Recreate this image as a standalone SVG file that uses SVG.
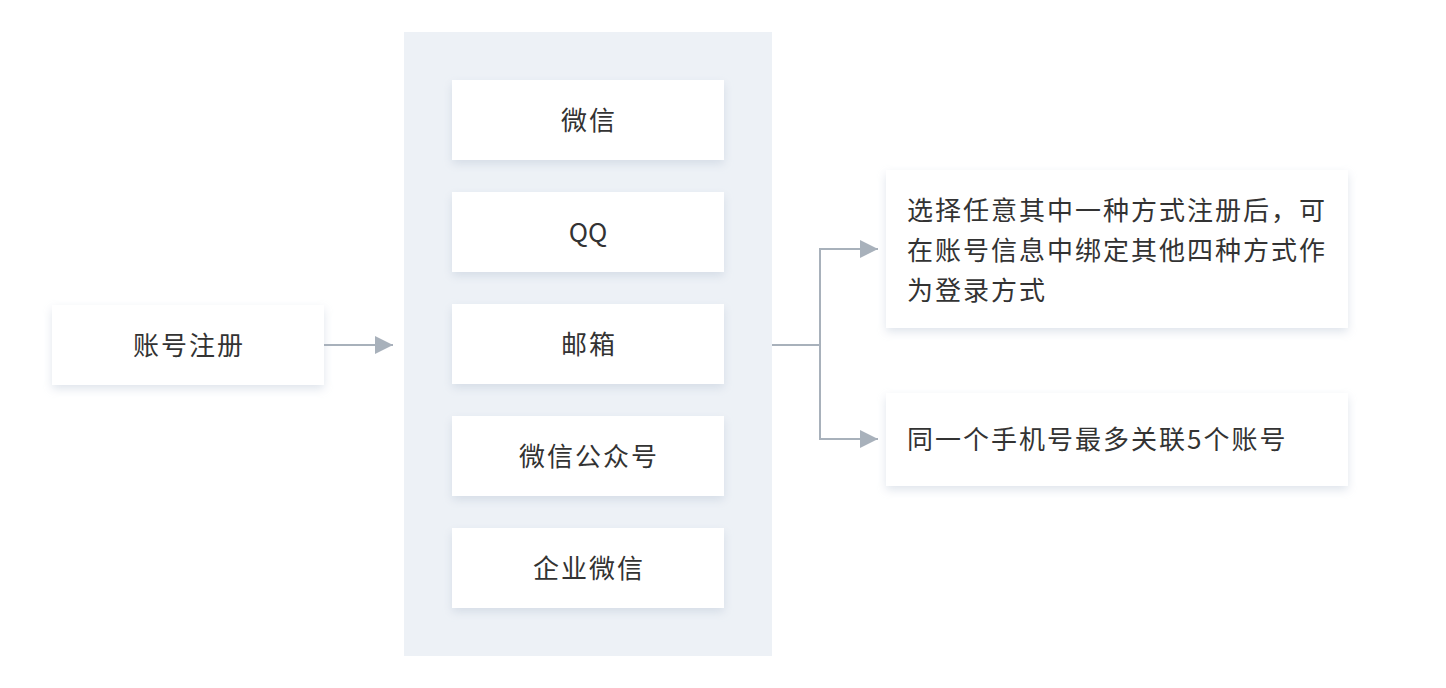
<svg xmlns="http://www.w3.org/2000/svg" width="1446" height="688" viewBox="0 0 1446 688">
<defs>
<filter id="sh" x="-10%" y="-20%" width="120%" height="150%">
<feDropShadow dx="0" dy="4" stdDeviation="5" flood-color="#b9c4d4" flood-opacity="0.45"/>
</filter>
<marker id="ah" markerWidth="18" markerHeight="18" refX="18" refY="9" orient="auto" markerUnits="userSpaceOnUse">
<path d="M0,0 L18,9 L0,18 Z" fill="#A8B1BB"/>
</marker>
<style>
.box{fill:#ffffff;filter:url(#sh)}
.t{font-family:"Noto Sans CJK SC","Noto Sans",sans-serif;font-size:26px;fill:#333333;letter-spacing:2px}
.c{text-anchor:middle;dominant-baseline:central}
.ln{fill:none;stroke:#A8B1BB;stroke-width:2}
</style>
</defs>
<rect width="1446" height="688" fill="#ffffff"/>
<g id="panel"><rect x="404" y="32" width="368" height="624" fill="#EDF1F6"/></g>
<g id="reg"><rect class="box" x="52" y="305" width="272" height="80"/><text class="t c" x="189" y="343">账号注册</text></g>
<g id="wx"><rect class="box" x="452" y="80" width="272" height="80"/><text class="t c" x="589" y="118">微信</text></g>
<g id="qq"><rect class="box" x="452" y="192" width="272" height="80"/><text class="t c" x="588" y="230" style="letter-spacing:0">QQ</text></g>
<g id="mail"><rect class="box" x="452" y="304" width="272" height="80"/><text class="t c" x="589" y="342">邮箱</text></g>
<g id="gzh"><rect class="box" x="452" y="416" width="272" height="80"/><text class="t c" x="589" y="454">微信公众号</text></g>
<g id="qywx"><rect class="box" x="452" y="528" width="272" height="80"/><text class="t c" x="589" y="566">企业微信</text></g>
<g id="note1"><rect class="box" x="886" y="170" width="462" height="158"/>
<text class="t" x="907" y="208" dominant-baseline="central">选择任意其中一种方式注册后，可</text>
<text class="t" x="907" y="248" dominant-baseline="central">在账号信息中绑定其他四种方式作</text>
<text class="t" x="907" y="288" dominant-baseline="central">为登录方式</text></g>
<g id="note2"><rect class="box" x="886" y="393" width="462" height="93"/>
<text class="t" x="907" y="437" dominant-baseline="central">同一个手机号最多关联5个账号</text></g>
<g id="connectors">
<path class="ln" d="M324,345 L393,345" marker-end="url(#ah)"/>
<path class="ln" d="M772,345 L820,345"/>
<path class="ln" d="M820,345 L820,249 L878,249" marker-end="url(#ah)"/>
<path class="ln" d="M820,345 L820,439 L878,439" marker-end="url(#ah)"/>
</g>
</svg>
